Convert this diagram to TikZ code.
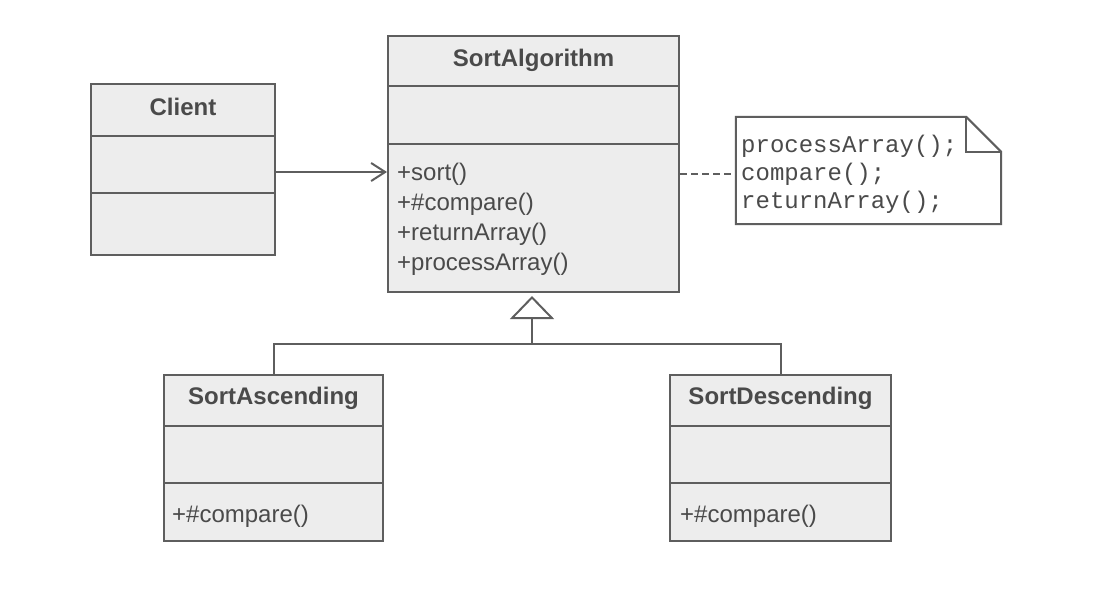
\documentclass[tikz,border=0pt]{standalone}
\usepackage{fontspec}
\setmainfont{Liberation Sans}
\newfontfamily\codefont{Liberation Mono}
\usetikzlibrary{arrows.meta}
\definecolor{umlfill}{HTML}{EDEDED}
\definecolor{umlline}{HTML}{5E5E5E}
\definecolor{umltext}{HTML}{4A4A4A}
\begin{document}
\begin{tikzpicture}[x=1pt,y=-1pt,
  box/.style={draw=umlline, fill=umlfill, line width=2pt, inner sep=0pt},
  title/.style={anchor=base, text=umltext, font=\fontsize{24}{28}\selectfont\bfseries, inner sep=0pt},
  member/.style={anchor=base west, text=umltext, font=\fontsize{24}{28}\selectfont, inner sep=0pt},
  code/.style={anchor=base west, text=umltext, font=\fontsize{24}{28}\selectfont\codefont, inner sep=0pt},
  divider/.style={draw=umlline, line width=2pt},
  conn/.style={draw=umlline, line width=2pt},
]
\fill[white] (0,0) rectangle (1102,592);
\useasboundingbox (0,0) rectangle (1102,592);

% class boxes
\node[box, minimum width=184pt, minimum height=171pt] (client) at (183,169.5) {};
\node[box, minimum width=291pt, minimum height=256pt] (alg) at (533.5,164) {};
\node[box, minimum width=219pt, minimum height=166pt] (asc) at (273.5,458) {};
\node[box, minimum width=221pt, minimum height=166pt] (desc) at (780.5,458) {};

% compartment dividers
\draw[divider] ([yshift=-53pt]client.north west) -- ([yshift=-53pt]client.north east);
\draw[divider] ([yshift=-110pt]client.north west) -- ([yshift=-110pt]client.north east);
\draw[divider] ([yshift=-51pt]alg.north west) -- ([yshift=-51pt]alg.north east);
\draw[divider] ([yshift=-109pt]alg.north west) -- ([yshift=-109pt]alg.north east);
\draw[divider] ([yshift=-52pt]asc.north west) -- ([yshift=-52pt]asc.north east);
\draw[divider] ([yshift=-109pt]asc.north west) -- ([yshift=-109pt]asc.north east);
\draw[divider] ([yshift=-52pt]desc.north west) -- ([yshift=-52pt]desc.north east);
\draw[divider] ([yshift=-109pt]desc.north west) -- ([yshift=-109pt]desc.north east);

% class names
\node[title] (client-name) at (183,115) {Client};
\node[title] (alg-name) at (533.5,66) {SortAlgorithm};
\node[title] (asc-name) at (273.5,404) {SortAscending};
\node[title] (desc-name) at (780.5,404) {SortDescending};

% operations
\node[member] (alg-op1) at (397,180) {+sort()};
\node[member] (alg-op2) at (397,210) {+\#compare()};
\node[member] (alg-op3) at (397,240) {+returnArray()};
\node[member] (alg-op4) at (397,270) {+processArray()};
\node[member] (asc-op1) at (172,522) {+\#compare()};
\node[member] (desc-op1) at (680,522) {+\#compare()};

% note with folded corner
\node[minimum width=265pt, minimum height=107pt, inner sep=0pt] (note) at (868.5,170.5) {};
\draw[conn, fill=white] (note.north west) -- ([xshift=-35pt]note.north east)
  -- ([yshift=-35pt]note.north east) -- (note.south east) -- (note.south west) -- cycle;
\draw[conn] ([xshift=-35pt]note.north east) -- ++(0,35) -- ([yshift=-35pt]note.north east);
\node[code] (note-l1) at (741,152) {processArray();};
\node[code] (note-l2) at (741,180) {compare();};
\node[code] (note-l3) at (741,208) {returnArray();};

% association
\draw[conn, -{Straight Barb[length=14pt, width=18pt]}]
  ([yshift=-2.5pt]client.east) -- ([yshift=-2.5pt]client.east -| alg.west);

% note anchor
\draw[draw=umlline, line width=1.5pt, dash pattern=on 7pt off 4pt]
  ([yshift=-10pt]alg.east) -- ([yshift=-10pt]alg.east -| note.west);

% generalization
\coordinate (fork) at (532,344);
\draw[conn] (asc.north) |- (fork) -| (desc.north);
\draw[conn, -{Triangle[open, length=23pt, width=44pt]}]
  (fork) -- ([yshift=-3pt]alg.south -| fork);
\end{tikzpicture}
\end{document}
